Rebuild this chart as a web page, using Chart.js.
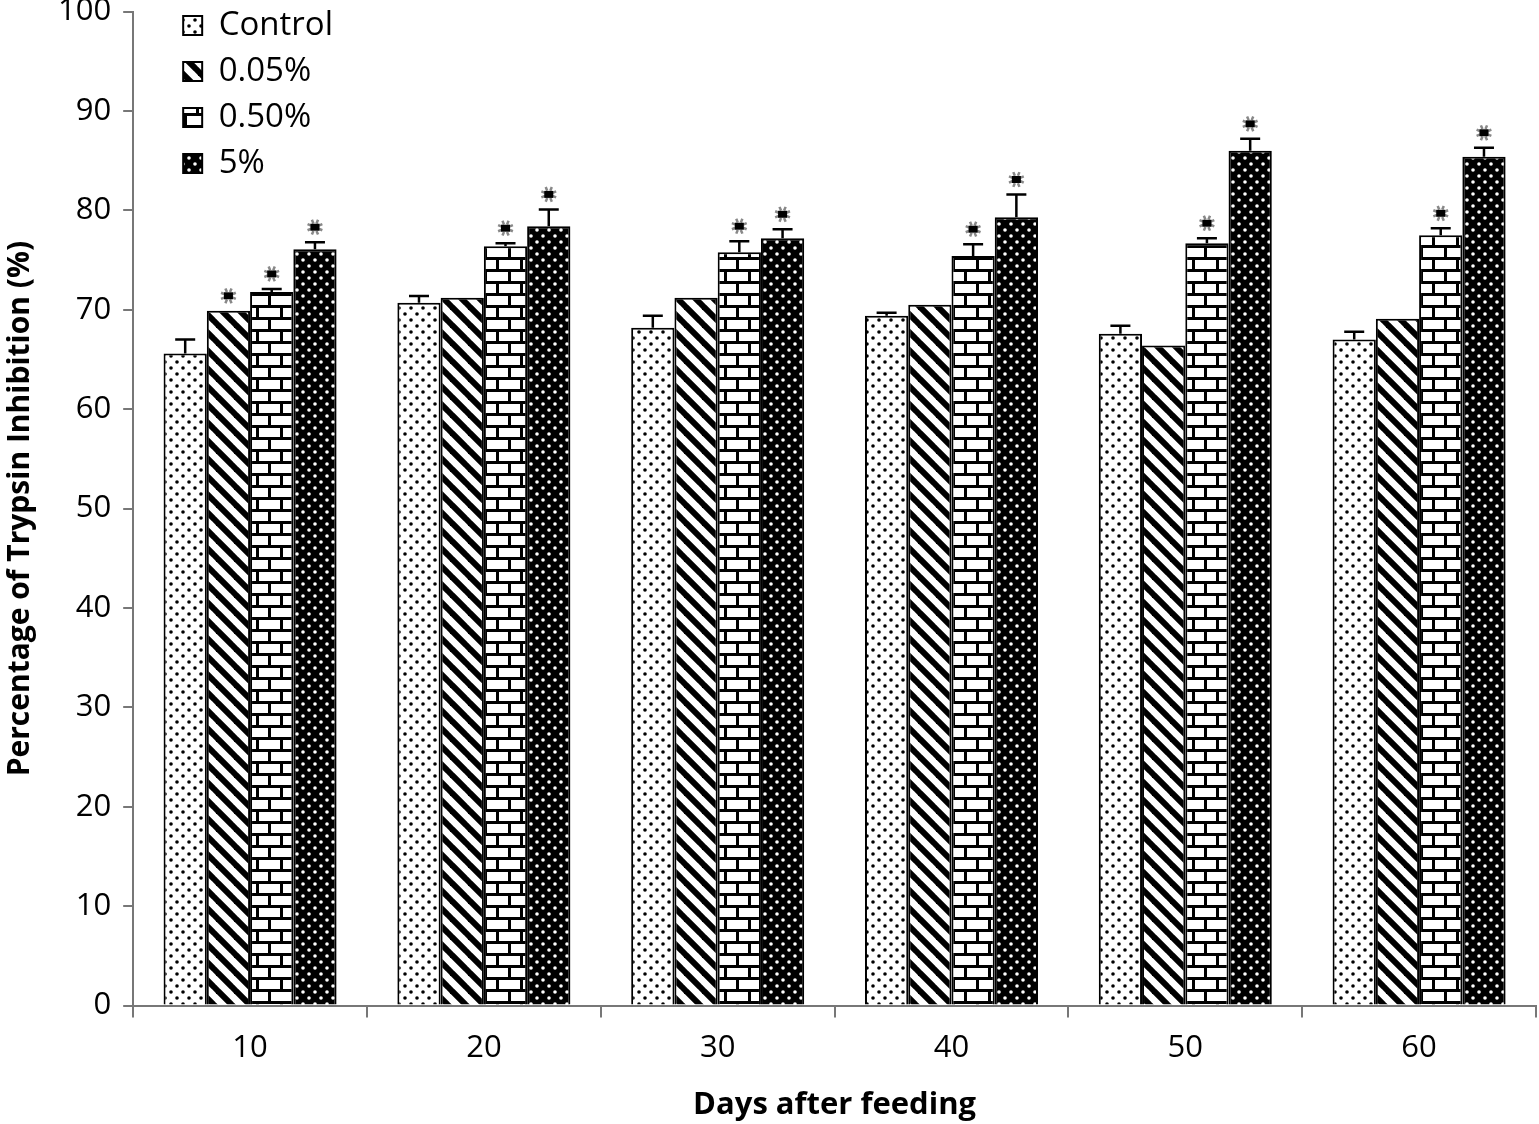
<!DOCTYPE html>
<html>
<head>
<meta charset="utf-8">
<script src="https://cdn.jsdelivr.net/npm/chart.js@4.4.0/dist/chart.umd.min.js"></script>
<style>
  html, body { margin: 0; background: #fff; overflow: hidden; }
  #wrap { width: 1539px; height: 1143px; margin-top: -19px; }
</style>
</head>
<body>
<div id="wrap"><canvas id="chart"></canvas></div>
<script>
// --- data ---
const days = ['10', '20', '30', '40', '50', '60'];
const seriesNames = ['Control', '0.05%', '0.50%', '5%'];

const control = [65.6, 70.7, 68.2, 69.4, 67.6, 67.0];
const pct005  = [69.9, 71.2, 71.2, 70.5, 66.4, 69.1];
const pct050  = [71.8, 76.4, 75.8, 75.4, 76.7, 77.5];
const pct5    = [76.1, 78.4, 77.2, 79.3, 86.0, 85.4];

// upper error bars (SE)
const errControl = [1.4, 0.7, 1.2, 0.3, 0.8, 0.8];
const err005     = [0, 0, 0, 0, 0, 0];
const err050     = [0.3, 0.3, 1.1, 1.2, 0.5, 0.7];
const err5       = [0.7, 1.7, 0.9, 2.3, 1.2, 0.9];

// significance marks
const starControl = [false, false, false, false, false, false];
const star005     = [true, false, false, false, false, false];
const star050     = [true, true, true, true, true, true];
const star5       = [true, true, true, true, true, true];

const yTicks = { min: 0, max: 100, step: 10 };

// --- pattern fills ---
function tile(w, h, draw) {
  const c = document.createElement('canvas');
  c.width = w; c.height = h;
  const g = c.getContext('2d');
  draw(g, w, h);
  return document.createElement('canvas').getContext('2d').createPattern(c, 'repeat');
}

function dots(bg, fg) {
  return tile(12, 12, (g, w, h) => {
    g.fillStyle = bg; g.fillRect(0, 0, w, h);
    g.fillStyle = fg;
    [[3, 3], [9, 9]].forEach(([x, y]) => { g.beginPath(); g.arc(x, y, 1.8, 0, Math.PI * 2); g.fill(); });
  });
}

const stripes = tile(18, 18, (g, w, h) => {
  g.fillStyle = '#fff'; g.fillRect(0, 0, w, h);
  g.strokeStyle = '#000'; g.lineWidth = 6;
  for (const o of [-18, 0, 18]) {
    g.beginPath(); g.moveTo(o - 2, -2); g.lineTo(o + w + 2, h + 2); g.stroke();
  }
});

const bricks = tile(24, 24, (g, w, h) => {
  g.fillStyle = '#fff'; g.fillRect(0, 0, w, h);
  g.fillStyle = '#000';
  g.fillRect(0, 0, w, 3);
  g.fillRect(0, 12, w, 3);
  g.fillRect(4, 0, 3, 12);
  g.fillRect(16, 12, 3, 12);
});

const fills = [dots('#fff', '#000'), stripes, bricks, dots('#000', '#fff')];
const values = [control, pct005, pct050, pct5];
const errors = [errControl, err005, err050, err5];
const stars = [starControl, star005, star050, star5];

// --- error bars + asterisks ---
function drawStar(ctx, x, y) {
  ctx.save();
  ctx.strokeStyle = '#888';
  ctx.lineWidth = 2.5;
  for (let k = 0; k < 8; k++) {
    const a = k * Math.PI / 4 + Math.PI / 8;
    ctx.beginPath();
    ctx.moveTo(x + Math.cos(a) * 4, y + Math.sin(a) * 4);
    ctx.lineTo(x + Math.cos(a) * 8, y + Math.sin(a) * 8);
    ctx.stroke();
  }
  ctx.fillStyle = '#000';
  ctx.fillRect(x - 4.5, y - 3.5, 9, 7);
  ctx.restore();
}

const errorBars = {
  id: 'errorBars',
  afterDatasetsDraw(chart) {
    const ctx = chart.ctx;
    const ys = chart.scales.y;
    chart.data.datasets.forEach((ds, di) => {
      chart.getDatasetMeta(di).data.forEach((bar, i) => {
        let top = bar.y;
        const e = errors[di][i];
        if (e > 0) {
          const yt = ys.getPixelForValue(ds.data[i] + e);
          ctx.save();
          ctx.strokeStyle = '#000';
          ctx.lineWidth = 2.5;
          ctx.beginPath();
          ctx.moveTo(bar.x, bar.y); ctx.lineTo(bar.x, yt);
          ctx.moveTo(bar.x - 10, yt); ctx.lineTo(bar.x + 10, yt);
          ctx.stroke();
          ctx.restore();
          top = yt;
        }
        if (stars[di][i]) drawStar(ctx, bar.x, top - 15);
      });
    });
  }
};

// shift the in-plot legend to where the figure has it
const legendShift = {
  id: 'legendShift',
  afterLayout(chart) {
    const lg = chart.legend;
    if (!lg) return;
    lg.left += 37; lg.right += 37;
    lg.top += 15; lg.bottom += 15;
  }
};

Chart.defaults.font.family = "'Open Sans', sans-serif";
Chart.defaults.color = '#000';

new Chart(document.getElementById('chart'), {
  type: 'bar',
  data: {
    labels: days,
    datasets: seriesNames.map((name, i) => ({
      label: name,
      data: values[i],
      backgroundColor: fills[i],
      borderColor: '#000',
      borderWidth: 2,
      categoryPercentage: 0.74,
      barPercentage: 1.0
    }))
  },
  options: {
    responsive: true,
    maintainAspectRatio: false,
    animation: false,
    layout: { padding: { left: 2, right: 3, top: 0, bottom: 0 } },
    plugins: {
      tooltip: { enabled: false },
      legend: {
        position: 'chartArea',
        align: 'start',
        labels: {
          boxWidth: 19,
          boxHeight: 19,
          padding: 13,
          font: { size: 33 },
          color: '#000'
        }
      }
    },
    scales: {
      x: {
        grid: { drawOnChartArea: false, drawTicks: true, offset: true, tickLength: 12, color: '#777', lineWidth: 2 },
        border: { color: '#777', width: 2 },
        ticks: { font: { size: 31 }, padding: 12 },
        title: { display: true, text: 'Days after feeding', font: { size: 31, weight: 'bold' }, padding: { top: 8, bottom: 0 } }
      },
      y: {
        min: yTicks.min,
        max: yTicks.max,
        grid: { drawOnChartArea: false, tickLength: 10, color: '#777', lineWidth: 2 },
        border: { color: '#777', width: 2 },
        ticks: { stepSize: yTicks.step, font: { size: 31 }, padding: 12 },
        title: { display: true, text: 'Percentage of Trypsin Inhibition (%)', font: { size: 30, weight: 'bold' }, padding: { top: 0, bottom: 8 } }
      }
    }
  },
  plugins: [errorBars, legendShift]
});
</script>
</body>
</html>
